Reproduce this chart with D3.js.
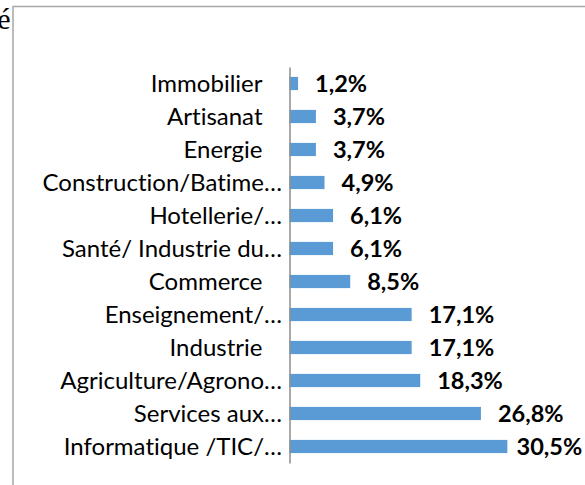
<!DOCTYPE html>
<html>
<head>
<meta charset="utf-8">
<script src="https://cdn.jsdelivr.net/npm/d3@7"></script>
<style>
  html, body { margin: 0; padding: 0; background: #fff; }
  svg { display: block; }
  text { font-variant-ligatures: none; font-feature-settings: "liga" 0, "clig" 0; }
</style>
</head>
<body>
<svg id="chart" width="585" height="485"></svg>
<script>
const categories = [
  "Immobilier",
  "Artisanat",
  "Energie",
  "Construction/Batime…",
  "Hotellerie/…",
  "Santé/ Industrie du…",
  "Commerce",
  "Enseignement/…",
  "Industrie",
  "Agriculture/Agrono…",
  "Services aux…",
  "Informatique /TIC/…"
];
const values = [1.2, 3.7, 3.7, 4.9, 6.1, 6.1, 8.5, 17.1, 17.1, 18.3, 26.8, 30.5];
const valueLabels = ["1,2%", "3,7%", "3,7%", "4,9%", "6,1%", "6,1%", "8,5%", "17,1%", "17,1%", "18,3%", "26,8%", "30,5%"];
const titleFragment = "é";

const data = categories.map((c, i) => ({ cat: c, value: values[i], label: valueLabels[i] }));

const svg = d3.select("#chart");
const font = "Lato, 'Open Sans', sans-serif";

// frame
svg.append("rect")
  .attr("x", 13).attr("y", 6.5)
  .attr("width", 700).attr("height", 700)
  .attr("fill", "#fff")
  .attr("stroke", "#a6a6a6")
  .attr("stroke-width", 1.5);

// cut-off title fragment
svg.append("text")
  .attr("x", 10.5).attr("y", 29)
  .attr("text-anchor", "end")
  .attr("font-family", "'Liberation Serif', 'Times New Roman', serif")
  .attr("font-size", 30)
  .attr("fill", "#000")
  .text(titleFragment);

const x = d3.scaleLinear().domain([0, 35]).range([289.5, 539.5]);
const y = d3.scaleBand().domain(categories).range([67, 463]).paddingInner(0.6).paddingOuter(0.3);

// bars
svg.append("g").selectAll("rect")
  .data(data)
  .join("rect")
  .attr("x", x(0))
  .attr("y", d => y(d.cat))
  .attr("width", d => x(d.value) - x(0))
  .attr("height", y.bandwidth())
  .attr("fill", "#5b9bd5");

// axis
const axis = d3.axisLeft(y).tickSize(0).tickSizeOuter(0).tickPadding(0);
const gAxis = svg.append("g")
  .attr("transform", `translate(${x(0)},0)`)
  .call(axis);
gAxis.select(".domain").attr("stroke", "#8c8c8c").attr("stroke-width", 1.5);
gAxis.selectAll(".tick text")
  .attr("font-family", font)
  .attr("font-size", 24)
  .attr("fill", "#000")
  .attr("x", d => d.endsWith("…") ? -7.5 : -27)
  .attr("dy", "0.35em");

// value labels
svg.append("g").selectAll("text")
  .data(data)
  .join("text")
  .attr("x", d => Math.min(x(d.value) + 17, 516.5))
  .attr("y", d => y(d.cat) + y.bandwidth() / 2)
  .attr("dy", "0.36em")
  .attr("font-family", font)
  .attr("font-weight", "bold")
  .attr("font-size", 23.5)
  .attr("fill", "#000")
  .text(d => d.label);
</script>
</body>
</html>
